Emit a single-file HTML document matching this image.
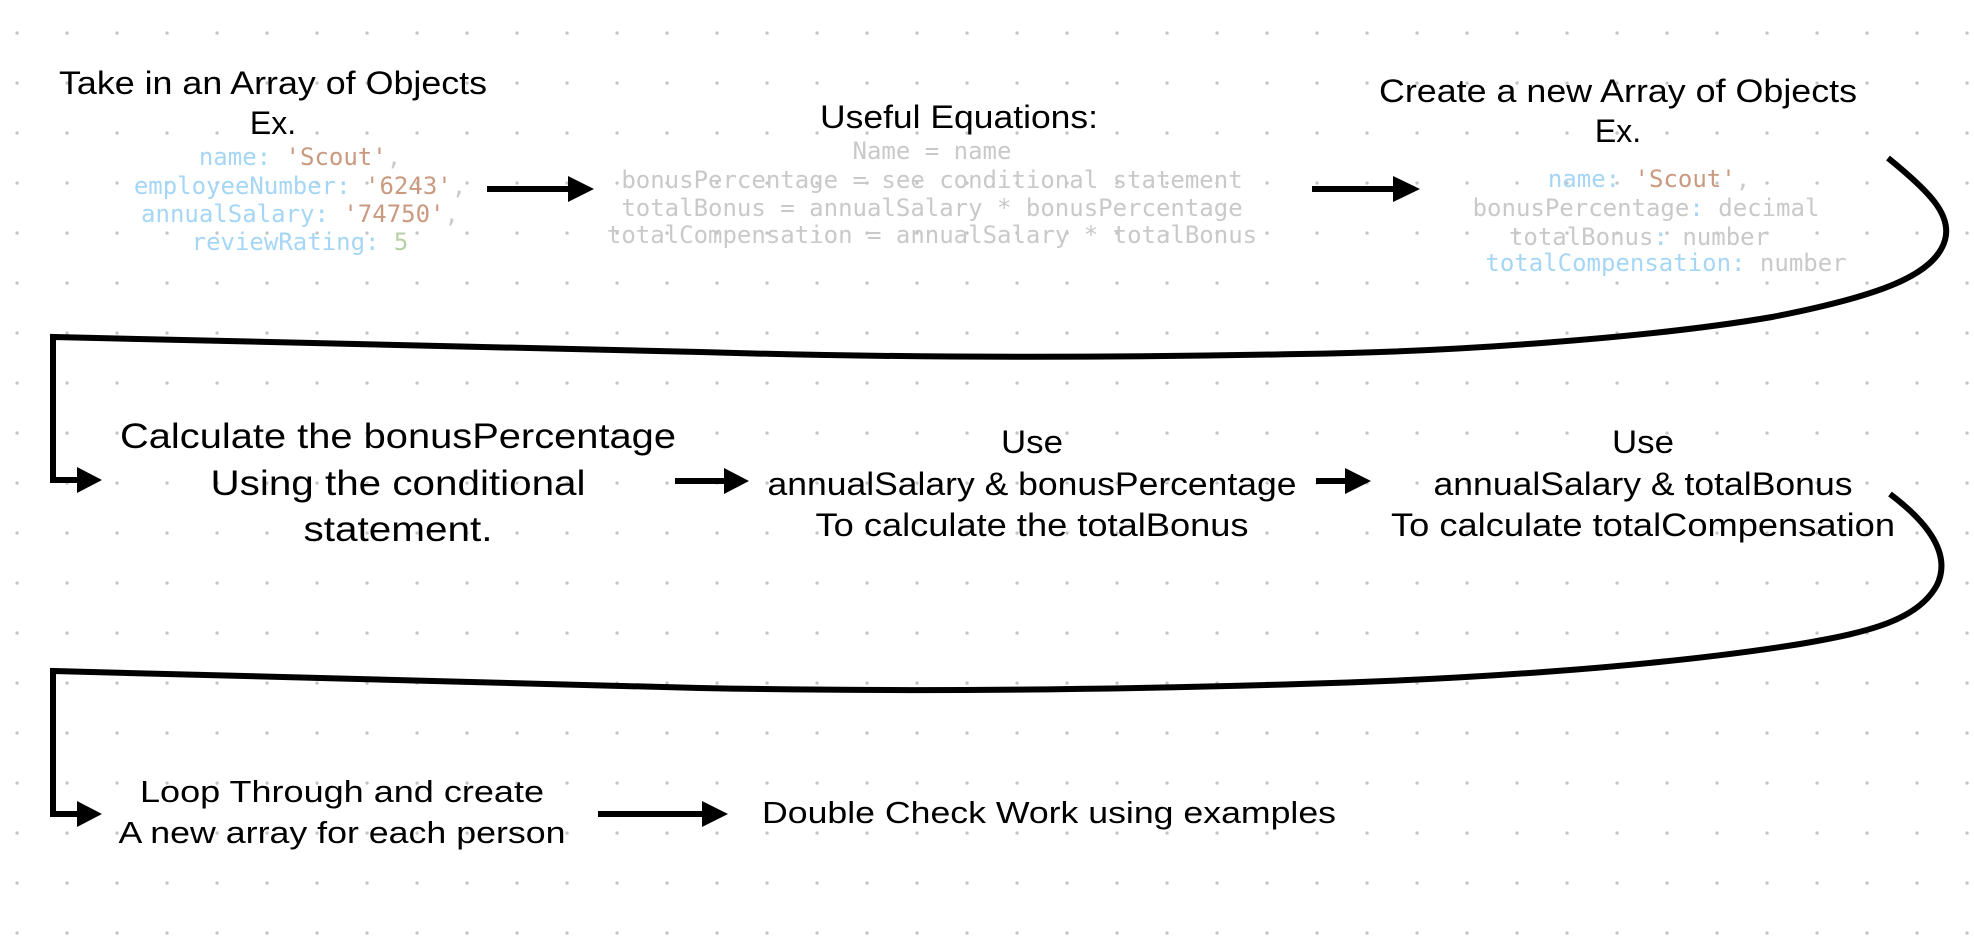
<!DOCTYPE html>
<html><head><meta charset="utf-8"><style>
html,body{margin:0;padding:0;background:#fff;}
svg{display:block;}
.t{font-family:"Liberation Sans",Arial,sans-serif;fill:#000;}
.m{font-family:"DejaVu Sans Mono","Liberation Mono",monospace;font-size:24px;}
.k{fill:#a6d6f6}.s{fill:#c99a80}.n{fill:#b6cfa6}.g{fill:#c9c9c9}
</style></head><body>
<svg width="1974" height="941" viewBox="0 0 1974 941" xmlns="http://www.w3.org/2000/svg">
<defs><pattern id="dots" x="17" y="33" width="50" height="50" patternUnits="userSpaceOnUse"><circle cx="0.1" cy="0.1" r="1.6" fill="#c4c4c4"/><circle cx="50" cy="0.1" r="1.6" fill="#c4c4c4"/><circle cx="0.1" cy="50" r="1.6" fill="#c4c4c4"/><circle cx="50" cy="50" r="1.6" fill="#c4c4c4"/></pattern></defs>
<rect width="1974" height="941" fill="url(#dots)"/>

<!-- Row 1 -->
<text class="t" x="273" y="94" font-size="32" text-anchor="middle" textLength="428" lengthAdjust="spacingAndGlyphs">Take in an Array of Objects</text>
<text class="t" x="273" y="134" font-size="32" text-anchor="middle">Ex.</text>
<text class="m" x="300" y="165" text-anchor="middle"><tspan class="k">name: </tspan><tspan class="s">'Scout'</tspan><tspan class="g">,</tspan></text>
<text class="m" x="300" y="194" text-anchor="middle"><tspan class="k">employeeNumber: </tspan><tspan class="s">'6243'</tspan><tspan class="g">,</tspan></text>
<text class="m" x="300" y="222" text-anchor="middle"><tspan class="k">annualSalary: </tspan><tspan class="s">'74750'</tspan><tspan class="g">,</tspan></text>
<text class="m" x="300" y="250" text-anchor="middle"><tspan class="k">reviewRating: </tspan><tspan class="n">5</tspan></text>

<text class="t" x="959" y="128" font-size="32" text-anchor="middle" textLength="278" lengthAdjust="spacingAndGlyphs">Useful Equations:</text>
<text class="m g" x="932" y="159" text-anchor="middle">Name = name</text>
<text class="m g" x="932" y="188" text-anchor="middle">bonusPercentage = see conditional statement</text>
<text class="m g" x="932" y="216" text-anchor="middle">totalBonus = annualSalary * bonusPercentage</text>
<text class="m g" x="932" y="243" text-anchor="middle">totalCompensation = annualSalary * totalBonus</text>

<text class="t" x="1618" y="102" font-size="32" text-anchor="middle" textLength="478" lengthAdjust="spacingAndGlyphs">Create a new Array of Objects</text>
<text class="t" x="1618" y="142" font-size="32" text-anchor="middle">Ex.</text>
<text class="m" x="1649" y="187" text-anchor="middle"><tspan class="k">name: </tspan><tspan class="s">'Scout'</tspan><tspan class="g">,</tspan></text>
<text class="m" x="1646" y="216" text-anchor="middle"><tspan class="g">bonusPercentage</tspan><tspan class="k">: </tspan><tspan class="g">decimal</tspan></text>
<text class="m" x="1639" y="245" text-anchor="middle"><tspan class="g">totalBonus</tspan><tspan class="k">: </tspan><tspan class="g">number</tspan></text>
<text class="m" x="1666" y="271" text-anchor="middle"><tspan class="k">totalCompensation: </tspan><tspan class="g">number</tspan></text>

<g stroke="#000" stroke-width="6" fill="none">
<line x1="487" y1="189" x2="570" y2="189"/>
<line x1="1312" y1="189" x2="1395" y2="189"/>
<line x1="675" y1="481" x2="727" y2="481"/>
<line x1="1316" y1="481" x2="1348" y2="481"/>
<line x1="598" y1="814" x2="703" y2="814"/>
<path d="M1888,158 C1930,192 1952,215 1945,240 C1935,275 1880,296 1772,317 C1650,338 1450,352 1300,354 C1100,358 900,358 700,352 C400,345 200,340 53,337 L53,480 L80,480"/>
<path d="M1890,494 C1935,528 1950,558 1937,585 C1918,620 1870,632 1800,644 C1650,668 1450,680 1300,684 C1100,690 900,692 700,688 C400,682 200,675 53,671 L53,814 L80,814"/>
</g>
<g fill="#000">
<polygon points="568,176 594,189 568,202"/>
<polygon points="1393,176 1420,189 1393,202"/>
<polygon points="724,468 749,481 724,494"/>
<polygon points="1345,468 1371,481 1345,494"/>
<polygon points="702,801 728,814 702,827"/>
<polygon points="77,467 102,480 77,493"/>
<polygon points="77,801 102,814 77,827"/>
</g>

<!-- Row 2 -->
<text class="t" x="398" y="448" font-size="35" text-anchor="middle" textLength="556" lengthAdjust="spacingAndGlyphs">Calculate the bonusPercentage</text>
<text class="t" x="398" y="495" font-size="35" text-anchor="middle" textLength="375" lengthAdjust="spacingAndGlyphs">Using the conditional</text>
<text class="t" x="398" y="541" font-size="35" text-anchor="middle" textLength="189" lengthAdjust="spacingAndGlyphs">statement.</text>

<text class="t" x="1032" y="453" font-size="32" text-anchor="middle" textLength="62" lengthAdjust="spacingAndGlyphs">Use</text>
<text class="t" x="1032" y="495" font-size="32" text-anchor="middle" textLength="529" lengthAdjust="spacingAndGlyphs">annualSalary &amp; bonusPercentage</text>
<text class="t" x="1032" y="536" font-size="32" text-anchor="middle" textLength="433" lengthAdjust="spacingAndGlyphs">To calculate the totalBonus</text>

<text class="t" x="1643" y="453" font-size="32" text-anchor="middle" textLength="62" lengthAdjust="spacingAndGlyphs">Use</text>
<text class="t" x="1643" y="495" font-size="32" text-anchor="middle" textLength="419" lengthAdjust="spacingAndGlyphs">annualSalary &amp; totalBonus</text>
<text class="t" x="1643" y="536" font-size="32" text-anchor="middle" textLength="504" lengthAdjust="spacingAndGlyphs">To calculate totalCompensation</text>

<!-- Row 3 -->
<text class="t" x="342" y="802" font-size="31" text-anchor="middle" textLength="404" lengthAdjust="spacingAndGlyphs">Loop Through and create</text>
<text class="t" x="342" y="843" font-size="31" text-anchor="middle" textLength="447" lengthAdjust="spacingAndGlyphs">A new array for each person</text>
<text class="t" x="762" y="823" font-size="31" textLength="574" lengthAdjust="spacingAndGlyphs">Double Check Work using examples</text>
</svg>
</body></html>
